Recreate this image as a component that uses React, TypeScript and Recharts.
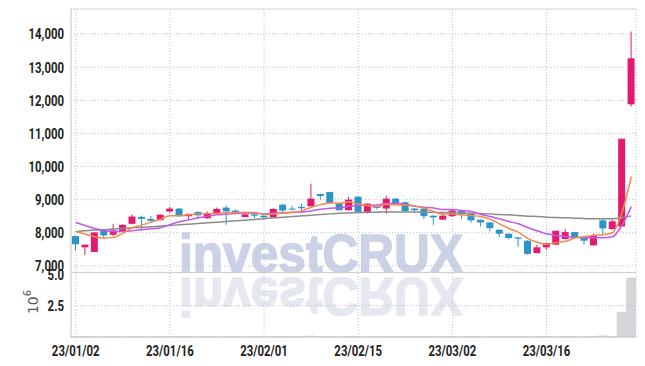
import {
  ComposedChart,
  Bar,
  Line,
  XAxis,
  YAxis,
  CartesianGrid,
  ReferenceLine,
} from "recharts"

const dates = [
  "23/01/02", "23/01/03", "23/01/04", "23/01/05", "23/01/06", "23/01/09", "23/01/10", "23/01/11", "23/01/12", "23/01/13",
  "23/01/16", "23/01/17", "23/01/18", "23/01/19", "23/01/20", "23/01/25", "23/01/26", "23/01/27", "23/01/30", "23/01/31",
  "23/02/01", "23/02/02", "23/02/03", "23/02/06", "23/02/07", "23/02/08", "23/02/09", "23/02/10", "23/02/13", "23/02/14",
  "23/02/15", "23/02/16", "23/02/17", "23/02/20", "23/02/21", "23/02/22", "23/02/23", "23/02/24", "23/02/27", "23/02/28",
  "23/03/02", "23/03/03", "23/03/06", "23/03/07", "23/03/08", "23/03/09", "23/03/10", "23/03/13", "23/03/14", "23/03/15",
  "23/03/16", "23/03/17", "23/03/20", "23/03/21", "23/03/22", "23/03/23", "23/03/24", "23/03/27", "23/03/28", "23/03/29",
]

const openPrices = [
  7900, 7560, 7420, 8090, 7940, 8040, 8270, 8480, 8420, 8380,
  8640, 8730, 8500, 8630, 8435, 8585, 8760, 8670, 8475, 8555,
  8515, 8465, 8850, 8730, 8780, 8800, 9170, 9230, 8880, 8680,
  9090, 8600, 8800, 8730, 9030, 8920, 8730, 8730, 8515, 8395,
  8500, 8670, 8575, 8395, 8310, 8090, 7970, 7860, 7760, 7385,
  7560, 7640, 7810, 8020, 7870, 7620, 8375, 8110, 8190, 11880,
]
const highPrices = [
  7910, 7640, 8010, 8100, 8270, 8260, 8550, 8520, 8510, 8560,
  8780, 8750, 8580, 8640, 8640, 8760, 8820, 8700, 8630, 8620,
  8570, 8740, 8860, 8810, 8880, 9480, 9180, 9240, 8890, 9080,
  9100, 8890, 8810, 9120, 9050, 8930, 8740, 8740, 8530, 8600,
  8700, 8700, 8590, 8400, 8320, 8100, 7980, 7870, 7770, 7640,
  7700, 8060, 8110, 8030, 7880, 7970, 8450, 8415, 10840, 14080,
]
const lowPrices = [
  7460, 7320, 7420, 7840, 7890, 8020, 8250, 8090, 8310, 8370,
  8600, 8490, 8420, 8420, 8430, 8580, 8240, 8570, 8470, 8435,
  8420, 8460, 8610, 8670, 8600, 8790, 9000, 8890, 8670, 8670,
  8620, 8580, 8710, 8570, 8850, 8640, 8600, 8415, 8240, 8390,
  8480, 8420, 8300, 8190, 8040, 7870, 7800, 7570, 7340, 7380,
  7485, 7630, 7800, 7860, 7640, 7610, 7940, 8100, 8190, 11810,
]
const closePrices = [
  7650, 7640, 8010, 7920, 8070, 8240, 8490, 8420, 8360, 8545,
  8730, 8500, 8570, 8525, 8570, 8720, 8645, 8600, 8555, 8515,
  8465, 8720, 8670, 8700, 8740, 9030, 9110, 8900, 8680, 9000,
  8630, 8880, 8750, 9030, 8900, 8650, 8680, 8500, 8465, 8515,
  8670, 8565, 8375, 8310, 8140, 7970, 7840, 7820, 7360, 7560,
  7690, 8060, 8020, 7860, 7760, 7910, 8130, 8345, 10840, 13270,
]
const volumes = [
  20000, 20000, 20000, 20000, 20000, 20000, 20000, 20000, 20000, 20000,
  20000, 20000, 20000, 20000, 20000, 20000, 20000, 20000, 20000, 20000,
  20000, 20000, 20000, 20000, 20000, 80000, 20000, 20000, 20000, 20000,
  20000, 20000, 20000, 20000, 20000, 20000, 20000, 20000, 20000, 20000,
  20000, 20000, 20000, 20000, 20000, 20000, 20000, 20000, 20000, 20000,
  20000, 20000, 20000, 20000, 20000, 20000, 90000, 20000, 1970000, 4710000,
]
const maShort = [
  8040, 7960, 7880, 7840, 7860, 7980, 8150, 8230, 8320, 8410,
  8510, 8510, 8540, 8570, 8580, 8580, 8610, 8610, 8620, 8610,
  8560, 8570, 8590, 8610, 8660, 8770, 8850, 8900, 8890, 8940,
  8860, 8820, 8790, 8860, 8840, 8840, 8800, 8750, 8640, 8560,
  8570, 8540, 8520, 8490, 8410, 8270, 8130, 8020, 7830, 7710,
  7650, 7700, 7740, 7840, 7880, 7920, 7940, 8000, 8600, 9700,
]
const maMid = [
  8310, 8220, 8130, 8070, 8040, 8040, 8060, 8090, 8120, 8150,
  8240, 8330, 8390, 8450, 8500, 8540, 8560, 8580, 8600, 8590,
  8570, 8590, 8600, 8620, 8630, 8660, 8710, 8740, 8750, 8800,
  8820, 8830, 8840, 8880, 8890, 8850, 8810, 8770, 8750, 8700,
  8700, 8670, 8640, 8560, 8490, 8420, 8340, 8270, 8160, 8060,
  7970, 7920, 7890, 7860, 7850, 7850, 7850, 7880, 8220, 8790,
]
const maLong = [
  8040, 8060, 8080, 8090, 8110, 8130, 8150, 8160, 8180, 8200,
  8220, 8240, 8260, 8280, 8300, 8320, 8340, 8360, 8380, 8400,
  8420, 8450, 8470, 8490, 8510, 8530, 8550, 8570, 8590, 8600,
  8610, 8620, 8620, 8630, 8630, 8630, 8630, 8620, 8620, 8610,
  8610, 8600, 8590, 8580, 8570, 8550, 8540, 8520, 8500, 8490,
  8470, 8460, 8450, 8440, 8430, 8420, 8420, 8420, 8450, 8510,
]

const priceTicks = [7000, 8000, 9000, 10000, 11000, 12000, 13000, 14000]
const volumeTicks = [2500000, 5000000]

const rows = dates.map((date, i) => ({
  date,
  open: openPrices[i],
  high: highPrices[i],
  low: lowPrices[i],
  close: closePrices[i],
  volume: volumes[i],
  ma5: maShort[i],
  ma10: maMid[i],
  ma20: maLong[i],
}))

const UP = "#e2196e"
const DOWN = "#2b95c9"
const GRID = "#bcc0cf"
const MARGIN = { top: 9, right: 9, left: 0, bottom: 0 }

const fmtPrice = (v: number) => v.toLocaleString("en-US")
const fmtVol = (v: number) => (v / 1e6).toFixed(1)
const fmtDate = (v: string) => v

// narrow bold labels, squeezed horizontally like the original font
function NarrowTick(props: any) {
  const { x, y, payload, anchor, dy, format } = props
  return (
    <g transform={`translate(${x},${y})`}>
      <text transform="scale(0.76,1)" textAnchor={anchor} dy={dy} fill="#222" fontSize={15}
        fontFamily="Roboto, sans-serif" fontWeight={700}>
        {format(payload.value)}
      </text>
    </g>
  )
}

function Candle(props: any) {
  const { x, y, width, height, payload } = props
  if (x == null || y == null || !payload) return null
  const top = Math.min(y, y + height)
  const h = Math.abs(height)
  const { open, close, high, low } = payload
  const color = close >= open ? UP : DOWN
  const k = high === low ? 0 : h / (high - low)
  const yOf = (v: number) => top + (high - v) * k
  const bTop = yOf(Math.max(open, close))
  const bBot = yOf(Math.min(open, close))
  const cx = x + width / 2
  return (
    <g>
      <line x1={cx} x2={cx} y1={top} y2={top + h} stroke={color} strokeWidth={1} />
      <rect x={x} y={bTop} width={width} height={Math.max(bBot - bTop, 1)} fill={color} />
    </g>
  )
}

export default function App() {
  return (
    <div style={{ position: "absolute", left: 0, top: 0, width: 645, height: 366 }}>
      <svg width={645} height={366} style={{ position: "absolute", left: 0, top: 0 }}>
        <text x={179} y={272} fontSize={54} fontWeight={700} fontFamily="'Liberation Sans', Arial, sans-serif"
          fill="#ccd2e5" stroke="#ccd2e5" strokeWidth={1.5} textLength={284} lengthAdjust="spacingAndGlyphs">investCRUX</text>
        <g transform="translate(0,550) scale(1,-1)">
          <text x={179} y={272} fontSize={54} fontWeight={700} fontFamily="'Liberation Sans', Arial, sans-serif"
            fill="#e6e8f0" stroke="#e6e8f0" strokeWidth={1.5} textLength={284} lengthAdjust="spacingAndGlyphs">investCRUX</text>
        </g>
        <text x={33} y={302} transform="rotate(-90 33 302)" textAnchor="middle" dominantBaseline="central"
          fontSize={14} fontFamily="'DejaVu Sans', sans-serif" fill="#555">
          10<tspan dy={-6} fontSize={10}>6</tspan>
        </text>
      </svg>

      {/* volume panel */}
      <div style={{ position: "absolute", left: 0, top: 0 }}>
        <ComposedChart width={645} height={366} data={rows} margin={{ ...MARGIN, bottom: 29 }}>
          <XAxis dataKey="date" hide />
          <YAxis width={71} domain={[0, 26200000]} ticks={volumeTicks} tickLine={false} axisLine={false}
            tickSize={5} tickMargin={2}
            tick={(p: any) => <NarrowTick {...p} anchor="end" dy="0.355em" format={fmtVol} />} />
          <ReferenceLine y={2500000} stroke={GRID} strokeDasharray="1 2" />
          <Bar dataKey="volume" fill="#d5d5da" stroke="#c4c4ca" strokeWidth={0.5} barSize={9} isAnimationActive={false} />
        </ComposedChart>
      </div>

      {/* price panel */}
      <div style={{ position: "absolute", left: 0, top: 0 }}>
        <ComposedChart width={645} height={366} data={rows} margin={MARGIN}>
          <XAxis dataKey="date" interval={9} tickLine={false} axisLine={{ stroke: "#ccc" }} height={29}
            tick={(p: any) => <NarrowTick {...p} anchor="middle" dy="0.71em" format={fmtDate} />} />
          <YAxis yAxisId="p" width={71} domain={[4850, 14760]} ticks={priceTicks} tickLine={false}
            axisLine={{ stroke: "#ccc" }} tickSize={5} tickMargin={2} allowDataOverflow
            tick={(p: any) => <NarrowTick {...p} anchor="end" dy="0.355em" format={fmtPrice} />} />
          <YAxis yAxisId="r" orientation="right" width={0} domain={[0, 1]} tick={false} tickLine={false}
            axisLine={{ stroke: "#ddd" }} />
          <CartesianGrid yAxisId="p" stroke={GRID} strokeDasharray="1 2" />
          <ReferenceLine yAxisId="p" y={6800} stroke="#ccc" />
          <ReferenceLine yAxisId="p" y={14760} stroke="#ddd" />
          <Bar yAxisId="p" dataKey={(d: any) => [d.low, d.high]} barSize={7} shape={<Candle />} isAnimationActive={false} />
          <Line yAxisId="p" type="monotone" dataKey="ma20" stroke="#8c8c8c" strokeWidth={1.5} dot={false} isAnimationActive={false} />
          <Line yAxisId="p" type="monotone" dataKey="ma10" stroke="#c656ea" strokeWidth={1.5} dot={false} isAnimationActive={false} />
          <Line yAxisId="p" type="monotone" dataKey="ma5" stroke="#f2894f" strokeWidth={1.5} dot={false} isAnimationActive={false} />
        </ComposedChart>
      </div>
    </div>
  )
}
